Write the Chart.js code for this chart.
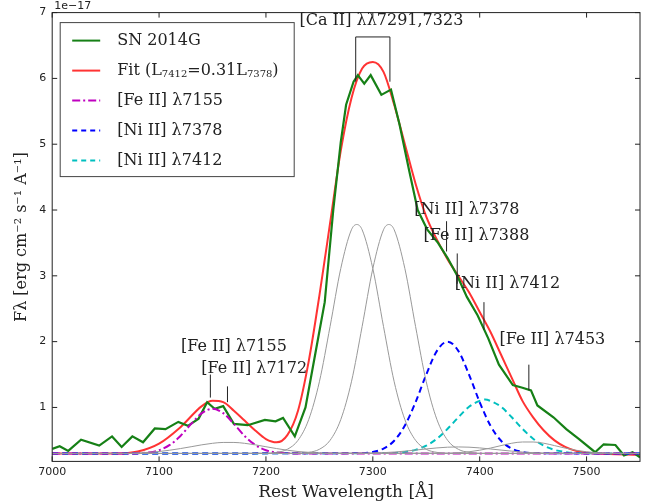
<!DOCTYPE html>
<html>
<head>
<meta charset="utf-8">
<script src="https://cdn.jsdelivr.net/npm/chart.js@4.4.1/dist/chart.umd.min.js"></script>
<style>
  html, body { margin: 0; padding: 0; background: #fff; }
  #wrap { width: 646px; height: 503px; }
</style>
</head>
<body>
<div id="wrap"><canvas id="specChart"></canvas></div>
<script>
// observed spectrum
const obsX = [7000, 7007, 7015, 7027, 7044, 7056, 7065, 7075, 7085, 7096, 7106, 7118, 7127, 7137, 7145, 7152, 7160, 7170, 7183, 7199, 7209, 7216, 7227, 7237, 7246, 7255, 7263, 7270, 7275, 7282, 7286, 7292, 7298, 7308, 7317, 7325, 7334, 7342, 7351, 7361, 7370, 7379, 7388, 7398, 7408, 7418, 7431, 7440, 7448, 7454, 7469, 7481, 7493, 7508, 7516, 7527, 7535, 7543, 7550];
const obsY = [0.37, 0.41, 0.34, 0.51, 0.42, 0.56, 0.40, 0.56, 0.47, 0.68, 0.67, 0.78, 0.72, 0.83, 1.08, 0.98, 1.02, 0.75, 0.73, 0.81, 0.79, 0.84, 0.56, 1.0, 1.8, 2.6, 4.0, 5.03, 5.6, 5.95, 6.05, 5.92, 6.05, 5.75, 5.83, 5.3, 4.6, 4.0, 3.7, 3.5, 3.27, 3.0, 2.68, 2.4, 2.05, 1.65, 1.34, 1.3, 1.26, 1.03, 0.85, 0.67, 0.52, 0.32, 0.44, 0.43, 0.27, 0.32, 0.24];

// total fit
const fitX = [7000, 7060, 7080, 7100, 7120, 7140, 7150, 7160, 7170, 7180, 7190, 7200, 7210, 7220, 7230, 7240, 7250, 7260, 7270, 7280, 7290, 7300, 7310, 7320, 7330, 7340, 7350, 7360, 7370, 7380, 7390, 7400, 7410, 7420, 7430, 7440, 7450, 7460, 7470, 7480, 7490, 7500, 7510, 7550];
const fitY = [0.3, 0.3, 0.33, 0.45, 0.7, 1.02, 1.1, 1.08, 0.95, 0.8, 0.65, 0.52, 0.47, 0.58, 0.95, 1.7, 2.7, 3.8, 4.9, 5.7, 6.15, 6.25, 6.1, 5.6, 5.0, 4.4, 3.9, 3.55, 3.25, 3.0, 2.75, 2.45, 2.15, 1.8, 1.45, 1.1, 0.85, 0.65, 0.5, 0.4, 0.34, 0.31, 0.3, 0.28];

// components
const fe7155X = [7000, 7070, 7080, 7090, 7100, 7110, 7120, 7130, 7140, 7150, 7160, 7170, 7180, 7190, 7200, 7210, 7220, 7230, 7550];
const fe7155Y = [0.3, 0.3, 0.305, 0.316, 0.35, 0.43, 0.567, 0.75, 0.913, 0.98, 0.913, 0.75, 0.567, 0.43, 0.35, 0.316, 0.305, 0.3, 0.3];

const fe7172X = [7000, 7070, 7080, 7090, 7100, 7110, 7120, 7130, 7140, 7150, 7160, 7170, 7180, 7190, 7200, 7210, 7220, 7230, 7240, 7250, 7260, 7550];
const fe7172Y = [0.3, 0.302, 0.308, 0.318, 0.33, 0.35, 0.375, 0.403, 0.432, 0.455, 0.468, 0.468, 0.455, 0.432, 0.403, 0.375, 0.35, 0.33, 0.318, 0.308, 0.302, 0.3];

const ca7291X = [7000, 7200, 7210, 7220, 7230, 7240, 7250, 7260, 7270, 7280, 7285, 7290, 7300, 7310, 7320, 7330, 7340, 7350, 7360, 7370, 7550];
const ca7291Y = [0.3, 0.302, 0.317, 0.364, 0.5, 0.815, 1.39, 2.23, 3.11, 3.7, 3.78, 3.7, 3.11, 2.23, 1.39, 0.815, 0.5, 0.364, 0.317, 0.302, 0.3];

const ca7323X = [7000, 7230, 7240, 7250, 7260, 7270, 7280, 7290, 7300, 7310, 7315, 7320, 7330, 7340, 7350, 7360, 7370, 7380, 7390, 7400, 7550];
const ca7323Y = [0.3, 0.302, 0.317, 0.364, 0.5, 0.815, 1.39, 2.23, 3.11, 3.7, 3.78, 3.7, 3.11, 2.23, 1.39, 0.815, 0.5, 0.364, 0.317, 0.302, 0.3];

const fe7388X = [7000, 7300, 7310, 7320, 7330, 7340, 7350, 7360, 7370, 7380, 7390, 7400, 7410, 7420, 7430, 7440, 7450, 7460, 7550];
const fe7388Y = [0.3, 0.307, 0.313, 0.322, 0.336, 0.352, 0.369, 0.385, 0.396, 0.4, 0.396, 0.385, 0.369, 0.352, 0.336, 0.322, 0.313, 0.307, 0.3];

const fe7453X = [7000, 7370, 7380, 7390, 7400, 7410, 7420, 7430, 7440, 7450, 7460, 7470, 7480, 7490, 7500, 7510, 7520, 7550];
const fe7453Y = [0.3, 0.305, 0.312, 0.326, 0.35, 0.382, 0.42, 0.456, 0.475, 0.475, 0.456, 0.42, 0.382, 0.35, 0.326, 0.312, 0.305, 0.3];

const ni7378X = [7000, 7290, 7300, 7310, 7320, 7330, 7340, 7350, 7360, 7370, 7380, 7390, 7400, 7410, 7420, 7430, 7440, 7450, 7550];
const ni7378Y = [0.3, 0.307, 0.324, 0.375, 0.494, 0.725, 1.08, 1.5, 1.86, 2.0, 1.86, 1.5, 1.08, 0.725, 0.494, 0.375, 0.324, 0.307, 0.3];

const ni7412X = [7000, 7320, 7330, 7340, 7350, 7360, 7370, 7380, 7390, 7400, 7405, 7410, 7420, 7430, 7440, 7450, 7460, 7470, 7480, 7490, 7550];
const ni7412Y = [0.3, 0.308, 0.323, 0.355, 0.419, 0.525, 0.675, 0.85, 1.01, 1.1, 1.12, 1.1, 1.01, 0.85, 0.675, 0.525, 0.419, 0.355, 0.323, 0.308, 0.3];

const xTicks = [7000, 7100, 7200, 7300, 7400, 7500];
const yTicks = [1, 2, 3, 4, 5, 6, 7];

// line labels: text, text x/y, marker x, marker y range
const lineLabels = [
  { text: "[Ni II] λ7378", tx: 7388, ty: 4.0, lx: 7369, y0: 3.83, y1: 3.37 },
  { text: "[Fe II] λ7388", tx: 7397, ty: 3.6, lx: 7379, y0: 3.34, y1: 2.88 },
  { text: "[Ni II] λ7412", tx: 7426, ty: 2.88, lx: 7404, y0: 2.6, y1: 2.18 },
  { text: "[Fe II] λ7453", tx: 7468, ty: 2.02, lx: 7446, y0: 1.65, y1: 1.26 },
  { text: "[Fe II] λ7155", tx: 7170, ty: 1.92, lx: 7148, y0: 1.5, y1: 1.15 },
  { text: "[Fe II] λ7172", tx: 7189, ty: 1.58, lx: 7164, y0: 1.32, y1: 1.08 },
];

const pts = (xs, ys) => xs.map((x, i) => ({ x: x, y: ys[i] }));
const SERIF = "'DejaVu Serif', 'Liberation Serif', serif";

function comp(data, color, dash, width) {
  return {
    data: data,
    borderColor: color,
    borderWidth: width,
    borderDash: dash,
    pointRadius: 0,
    fill: false,
    cubicInterpolationMode: "monotone",
  };
}

const datasets = [
  comp(pts(fe7172X, fe7172Y), "#999999", [], 1),
  comp(pts(ca7291X, ca7291Y), "#999999", [], 1),
  comp(pts(ca7323X, ca7323Y), "#999999", [], 1),
  comp(pts(fe7388X, fe7388Y), "#999999", [], 1),
  comp(pts(fe7453X, fe7453Y), "#999999", [], 1),
  comp(pts(fe7155X, fe7155Y), "#bf00bf", [8, 3, 2, 3], 2),
  comp(pts(ni7378X, ni7378Y), "#0000ff", [6, 4], 2),
  comp(pts(ni7412X, ni7412Y), "#00bfbf", [6, 4], 2),
  { data: pts(obsX, obsY), borderColor: "#168016", borderWidth: 2.2, pointRadius: 0, tension: 0, fill: false },
  comp(pts(fitX, fitY), "#ff3333", [], 2),
];

const overlay = {
  id: "overlay",
  afterDraw(chart) {
    const c = chart.ctx, a = chart.chartArea;
    const xs = chart.scales.x, ys = chart.scales.y;
    c.save();
    c.strokeStyle = "#222";
    c.lineWidth = 1;
    c.strokeRect(a.left, a.top, a.right - a.left, a.bottom - a.top);

    // inward tick marks
    xTicks.forEach((v) => {
      const px = xs.getPixelForValue(v);
      c.beginPath(); c.moveTo(px, a.bottom); c.lineTo(px, a.bottom - 5);
      c.moveTo(px, a.top); c.lineTo(px, a.top + 5); c.stroke();
    });
    yTicks.forEach((v) => {
      const py = ys.getPixelForValue(v);
      c.beginPath(); c.moveTo(a.left, py); c.lineTo(a.left + 5, py);
      c.moveTo(a.right, py); c.lineTo(a.right - 5, py); c.stroke();
    });

    // "1e-17" offset text
    c.fillStyle = "#222";
    c.font = "11px 'DejaVu Sans', sans-serif";
    c.textAlign = "left";
    c.textBaseline = "bottom";
    c.fillText("1e\u221217", a.left + 2, a.top - 1);

    // line identification labels
    c.font = "16px " + SERIF;
    c.textAlign = "center";
    c.textBaseline = "middle";
    lineLabels.forEach((l) => {
      c.fillText(l.text, xs.getPixelForValue(l.tx), ys.getPixelForValue(l.ty));
      c.beginPath();
      c.moveTo(xs.getPixelForValue(l.lx), ys.getPixelForValue(l.y0));
      c.lineTo(xs.getPixelForValue(l.lx), ys.getPixelForValue(l.y1));
      c.stroke();
    });

    // Ca II bracket
    c.fillText("[Ca II] λλ7291,7323", xs.getPixelForValue(7308), ys.getPixelForValue(6.88));
    const bx0 = xs.getPixelForValue(7284), bx1 = xs.getPixelForValue(7316);
    c.beginPath();
    c.moveTo(bx0, ys.getPixelForValue(5.95));
    c.lineTo(bx0, ys.getPixelForValue(6.63));
    c.lineTo(bx1, ys.getPixelForValue(6.63));
    c.lineTo(bx1, ys.getPixelForValue(5.95));
    c.stroke();

    // legend box
    const L = a.left + 8, T = a.top + 10, W = 234, H = 154;
    c.fillStyle = "#fff";
    c.fillRect(L, T, W, H);
    c.strokeStyle = "#444";
    c.strokeRect(L, T, W, H);
    const items = [
      ["#168016", [], "SN 2014G"],
      ["#ff3333", [], null],
      ["#bf00bf", [8, 3, 2, 3], "[Fe II] λ7155"],
      ["#0000ff", [5, 4], "[Ni II] λ7378"],
      ["#00bfbf", [5, 4], "[Ni II] λ7412"],
    ];
    items.forEach((it, i) => {
      const y = T + 18 + i * 30;
      c.strokeStyle = it[0];
      c.lineWidth = 2;
      c.setLineDash(it[1]);
      c.beginPath();
      c.moveTo(L + 12, y);
      c.lineTo(L + 40, y);
      c.stroke();
      c.setLineDash([]);
      c.fillStyle = "#222";
      c.textAlign = "left";
      c.font = "16px " + SERIF;
      let x = L + 57;
      if (it[2]) {
        c.fillText(it[2], x, y);
      } else {
        const parts = [["Fit (L", 16, 0], ["7412", 10, 4], ["=0.31L", 16, 0], ["7378", 10, 4], [")", 16, 0]];
        parts.forEach((p) => {
          c.font = p[1] + "px " + SERIF;
          c.fillText(p[0], x, y + p[2]);
          x += c.measureText(p[0]).width;
        });
      }
    });
    c.restore();
  },
};

new Chart(document.getElementById("specChart"), {
  type: "line",
  data: { datasets: datasets },
  options: {
    responsive: true,
    maintainAspectRatio: false,
    animation: false,
    events: [],
    layout: { padding: { top: 12, right: 6, left: 8, bottom: 0 } },
    plugins: { legend: { display: false }, tooltip: { enabled: false } },
    scales: {
      x: {
        type: "linear",
        min: 7000,
        max: 7550,
        afterBuildTicks: (s) => { s.ticks = xTicks.map((v) => ({ value: v })); },
        grid: { display: false, drawTicks: false },
        border: { display: false },
        ticks: { color: "#222", font: { size: 11, family: "'DejaVu Sans', sans-serif" }, padding: 4, maxRotation: 0, callback: (v) => String(v) },
        title: { display: true, text: "Rest Wavelength [Å]", color: "#222", font: { size: 17, family: SERIF }, padding: { top: 0, bottom: 0 } },
      },
      y: {
        min: 0.18,
        max: 7,
        afterBuildTicks: (s) => { s.ticks = yTicks.map((v) => ({ value: v })); },
        grid: { display: false, drawTicks: false },
        border: { display: false },
        ticks: { color: "#222", font: { size: 11, family: "'DejaVu Sans', sans-serif" }, padding: 6 },
        title: { display: true, text: "Fλ [erg cm⁻² s⁻¹ A⁻¹]", color: "#222", font: { size: 16, family: SERIF }, padding: { bottom: 2 } },
      },
    },
  },
  plugins: [overlay],
});
</script>
</body>
</html>
